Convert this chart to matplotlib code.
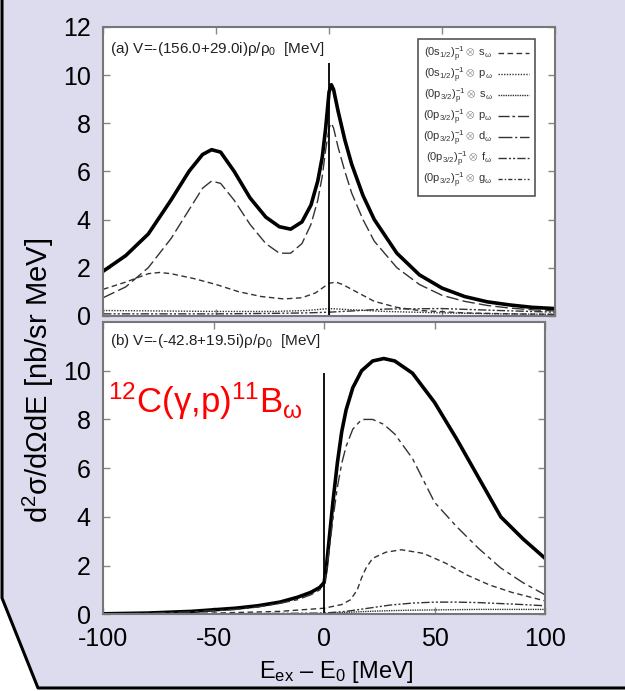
import matplotlib
matplotlib.use("Agg")
import matplotlib.pyplot as plt
from matplotlib.patches import Polygon
from matplotlib.lines import Line2D

plt.rcParams['font.family'] = ['Liberation Sans', 'DejaVu Sans']
plt.rcParams['mathtext.fontset'] = 'custom'
plt.rcParams['mathtext.rm'] = 'Liberation Sans'
plt.rcParams['mathtext.it'] = 'Liberation Sans'
plt.rcParams['mathtext.bf'] = 'Liberation Sans:bold'
plt.rcParams['axes.unicode_minus'] = False

# ---- panel (a): V = -(156.0+29.0i) rho/rho0 ----
a_x = [-100, -90, -80, -70, -62, -56, -52, -48, -42, -35, -28, -22, -17, -12, -8, -5, -3,
       -1.5, 0, 1, 2, 4, 7, 10, 15, 20, 30, 40, 50, 60, 70, 80, 90, 100]
a_total = [1.85, 2.5, 3.4, 4.8, 6.0, 6.7, 6.9, 6.8, 6.0, 4.9, 4.1, 3.7, 3.6, 3.9, 4.6, 5.6, 6.6,
           7.8, 9.3, 9.6, 9.4, 8.5, 7.3, 6.3, 5.0, 4.0, 2.6, 1.7, 1.15, 0.8, 0.58, 0.45, 0.35, 0.3]
a_p = [0.75, 1.2, 2.0, 3.2, 4.4, 5.3, 5.6, 5.5, 4.8, 3.8, 3.0, 2.6, 2.6, 3.0, 3.8, 4.8, 5.8,
       6.9, 7.8, 8.0, 7.8, 7.0, 6.0, 5.1, 4.0, 3.1, 2.0, 1.3, 0.85, 0.6, 0.43, 0.32, 0.25, 0.2]

a_s_x = [-100, -90, -80, -75, -70, -60, -50, -40, -30, -20, -12, -6, -3, 0, 3, 6, 10, 15, 20,
         30, 40, 60, 80, 100]
a_s = [1.1, 1.4, 1.75, 1.8, 1.75, 1.55, 1.3, 1.0, 0.8, 0.7, 0.75, 0.95, 1.15, 1.35, 1.4, 1.3,
       1.1, 0.85, 0.6, 0.35, 0.22, 0.12, 0.08, 0.06]

a_small_x = [-100, -75, -50, -25, -10, 0, 10, 25, 50, 75, 100]
a_small1 = [0.22, 0.2, 0.18, 0.18, 0.22, 0.3, 0.25, 0.18, 0.12, 0.08, 0.06]
a_small2 = [0.08, 0.08, 0.08, 0.1, 0.12, 0.15, 0.2, 0.28, 0.3, 0.22, 0.15]

# ---- panel (b): V = -(-42.8+19.5i) rho/rho0 ----
b_x = [-100, -80, -60, -40, -30, -20, -12, -6, -2, 0, 1, 2, 4, 6, 8, 10, 13, 17, 22, 27, 32,
       40, 50, 60, 70, 80, 90, 100]
b_total = [0.02, 0.05, 0.12, 0.25, 0.35, 0.5, 0.7, 0.9, 1.1, 1.3, 1.9, 2.8, 4.6, 6.2, 7.5, 8.4,
           9.3, 10.0, 10.4, 10.5, 10.4, 9.9, 8.7, 7.2, 5.6, 4.0, 3.1, 2.3]
b_p = [0.02, 0.04, 0.1, 0.2, 0.3, 0.45, 0.6, 0.8, 1.0, 1.2, 1.7, 2.4, 3.9, 5.2, 6.2, 6.9, 7.6,
       8.0, 8.0, 7.8, 7.4, 6.4, 4.6, 3.6, 2.7, 1.9, 1.3, 0.8]

b_s_x = [-100, -50, -20, 0, 8, 12, 15, 17, 19, 22, 28, 35, 45, 55, 65, 75, 85, 100]
b_s = [0.01, 0.05, 0.12, 0.25, 0.4, 0.6, 1.0, 1.5, 1.9, 2.3, 2.55, 2.65, 2.5, 2.1, 1.6, 1.2,
       0.9, 0.55]

b_small_x = [-100, -50, 0, 10, 20, 30, 40, 50, 60, 70, 80, 90, 100]
b_small1 = [0.0, 0.02, 0.05, 0.12, 0.25, 0.38, 0.46, 0.5, 0.5, 0.48, 0.44, 0.4, 0.35]
b_small2 = [0.0, 0.01, 0.03, 0.08, 0.12, 0.15, 0.17, 0.18, 0.19, 0.2, 0.2, 0.2, 0.2]

xticks = [-100, -50, 0, 50, 100]
legend_labels = [
    r"$(0s_{1/2})_p^{-1}\otimes\ s_\omega$",
    r"$(0s_{1/2})_p^{-1}\otimes\ p_\omega$",
    r"$(0p_{3/2})_p^{-1}\otimes\ s_\omega$",
    r"$(0p_{3/2})_p^{-1}\otimes\ p_\omega$",
    r"$(0p_{3/2})_p^{-1}\otimes\ d_\omega$",
    r"$(0p_{3/2})_p^{-1}\otimes\ f_\omega$",
    r"$(0p_{3/2})_p^{-1}\otimes\ g_\omega$",
]
legend_styles = [(0, (4, 2.5)), (0, (1, 1)), (0, (1, 0.7)), (0, (8, 2, 2, 2)),
                 (0, (10, 2, 1.5, 2)), (0, (6, 1.5, 1.5, 1.5, 1.5, 1.5)), (0, (3, 1.5, 1, 1.5))]

fig = plt.figure(figsize=(6.25, 6.91), dpi=100)
fig.patch.set_facecolor('white')

# lavender slide box with clipped corner (drawn behind the axes)
W, H = 625, 691
box = [(2, 0), (2, 598), (38, 688), (625, 688), (625, 0)]
fig.patches.append(Polygon([(x / W, 1 - y / H) for x, y in box], closed=True,
                           transform=fig.transFigure, facecolor='#dddcef',
                           edgecolor='none', zorder=-2))
edge = [(2, 0), (2, 598), (38, 688), (625, 688)]
fig.lines.append(Line2D([x / W for x, y in edge], [1 - y / H for x, y in edge],
                        transform=fig.transFigure, color='black', lw=2.2, zorder=-1))

ax1 = fig.add_axes([0.165, 0.543, 0.723, 0.418])
ax2 = fig.add_axes([0.165, 0.111, 0.707, 0.423])

for ax in (ax1, ax2):
    ax.set_facecolor('white')
    ax.set_xlim(-100, 100)
    ax.set_ylim(0, 12)
    ax.set_xticks(xticks)
    ax.tick_params(direction='in', top=True, right=True, length=5, width=1,
                   color='#888888', labelsize=18, pad=9)
    for sp in ax.spines.values():
        sp.set_color('#777777')
        sp.set_linewidth(1.5)

ax1.set_yticks([0, 2, 4, 6, 8, 10, 12])
ax1.tick_params(labelbottom=False)
ax2.set_yticks([0, 2, 4, 6, 8, 10])

# panel (a) curves
ax1.plot(a_x, a_total, color='black', lw=2.6)
ax1.plot(a_x, a_p, color='#333333', lw=1.0, linestyle=(0, (9, 3)))
ax1.plot(a_s_x, a_s, color='#333333', lw=1.0, linestyle=legend_styles[0])
ax1.plot(a_small_x, a_small1, color='#333333', lw=1.0, linestyle=legend_styles[1])
ax1.plot(a_small_x, a_small2, color='#333333', lw=1.0, linestyle=legend_styles[5])
ax1.vlines(0, 0, 10.5, color='black', lw=1.3)
ax1.text(0.015, 0.955, r"(a) V=-(156.0+29.0i)$\rho/\rho_0$  [MeV]", transform=ax1.transAxes,
         ha='left', va='top', fontsize=11, color='#222222')

handles = [Line2D([], [], color='#333333', lw=1.0, linestyle=s) for s in legend_styles]
leg = ax1.legend(handles, legend_labels, loc='upper right', bbox_to_anchor=(0.968, 0.978),
                 markerfirst=False, fontsize=8, handlelength=2.8, labelspacing=0.15,
                 borderpad=0.5, handletextpad=0.5, fancybox=False, framealpha=1)
leg.get_frame().set_edgecolor('#555555')
leg.get_frame().set_linewidth(1.2)
for t in leg.get_texts():
    t.set_color('#333333')

# panel (b) curves
ax2.plot(b_x, b_total, color='black', lw=2.6)
ax2.plot(b_x, b_p, color='#333333', lw=1.0, linestyle=(0, (9, 3, 3, 3)))
ax2.plot(b_s_x, b_s, color='#333333', lw=1.0, linestyle=legend_styles[0])
ax2.plot(b_small_x, b_small1, color='#333333', lw=1.0, linestyle=legend_styles[5])
ax2.plot(b_small_x, b_small2, color='#333333', lw=1.0, linestyle=legend_styles[2])
ax2.vlines(0, 0, 9.9, color='black', lw=1.3)
ax2.text(0.015, 0.965, r"(b) V=-(-42.8+19.5i)$\rho/\rho_0$  [MeV]", transform=ax2.transAxes,
         ha='left', va='top', fontsize=11, color='#222222')
ax2.text(0.01, 0.73, r"$^{12}$C($\gamma$,p)$^{11}$B$_{\omega}$", transform=ax2.transAxes,
         ha='left', va='center', fontsize=25, color='#ff0000')

fig.text(0.061, 0.449, r"d$^2\sigma$/d$\Omega$dE [nb/sr MeV]", rotation=90,
         ha='center', va='center', fontsize=21)
fig.text(0.538, 0.027, r"E$_{\rm ex}$ – E$_0$ [MeV]", ha='center', va='center', fontsize=17)

fig.savefig('out.png', dpi=100, facecolor=fig.get_facecolor())
